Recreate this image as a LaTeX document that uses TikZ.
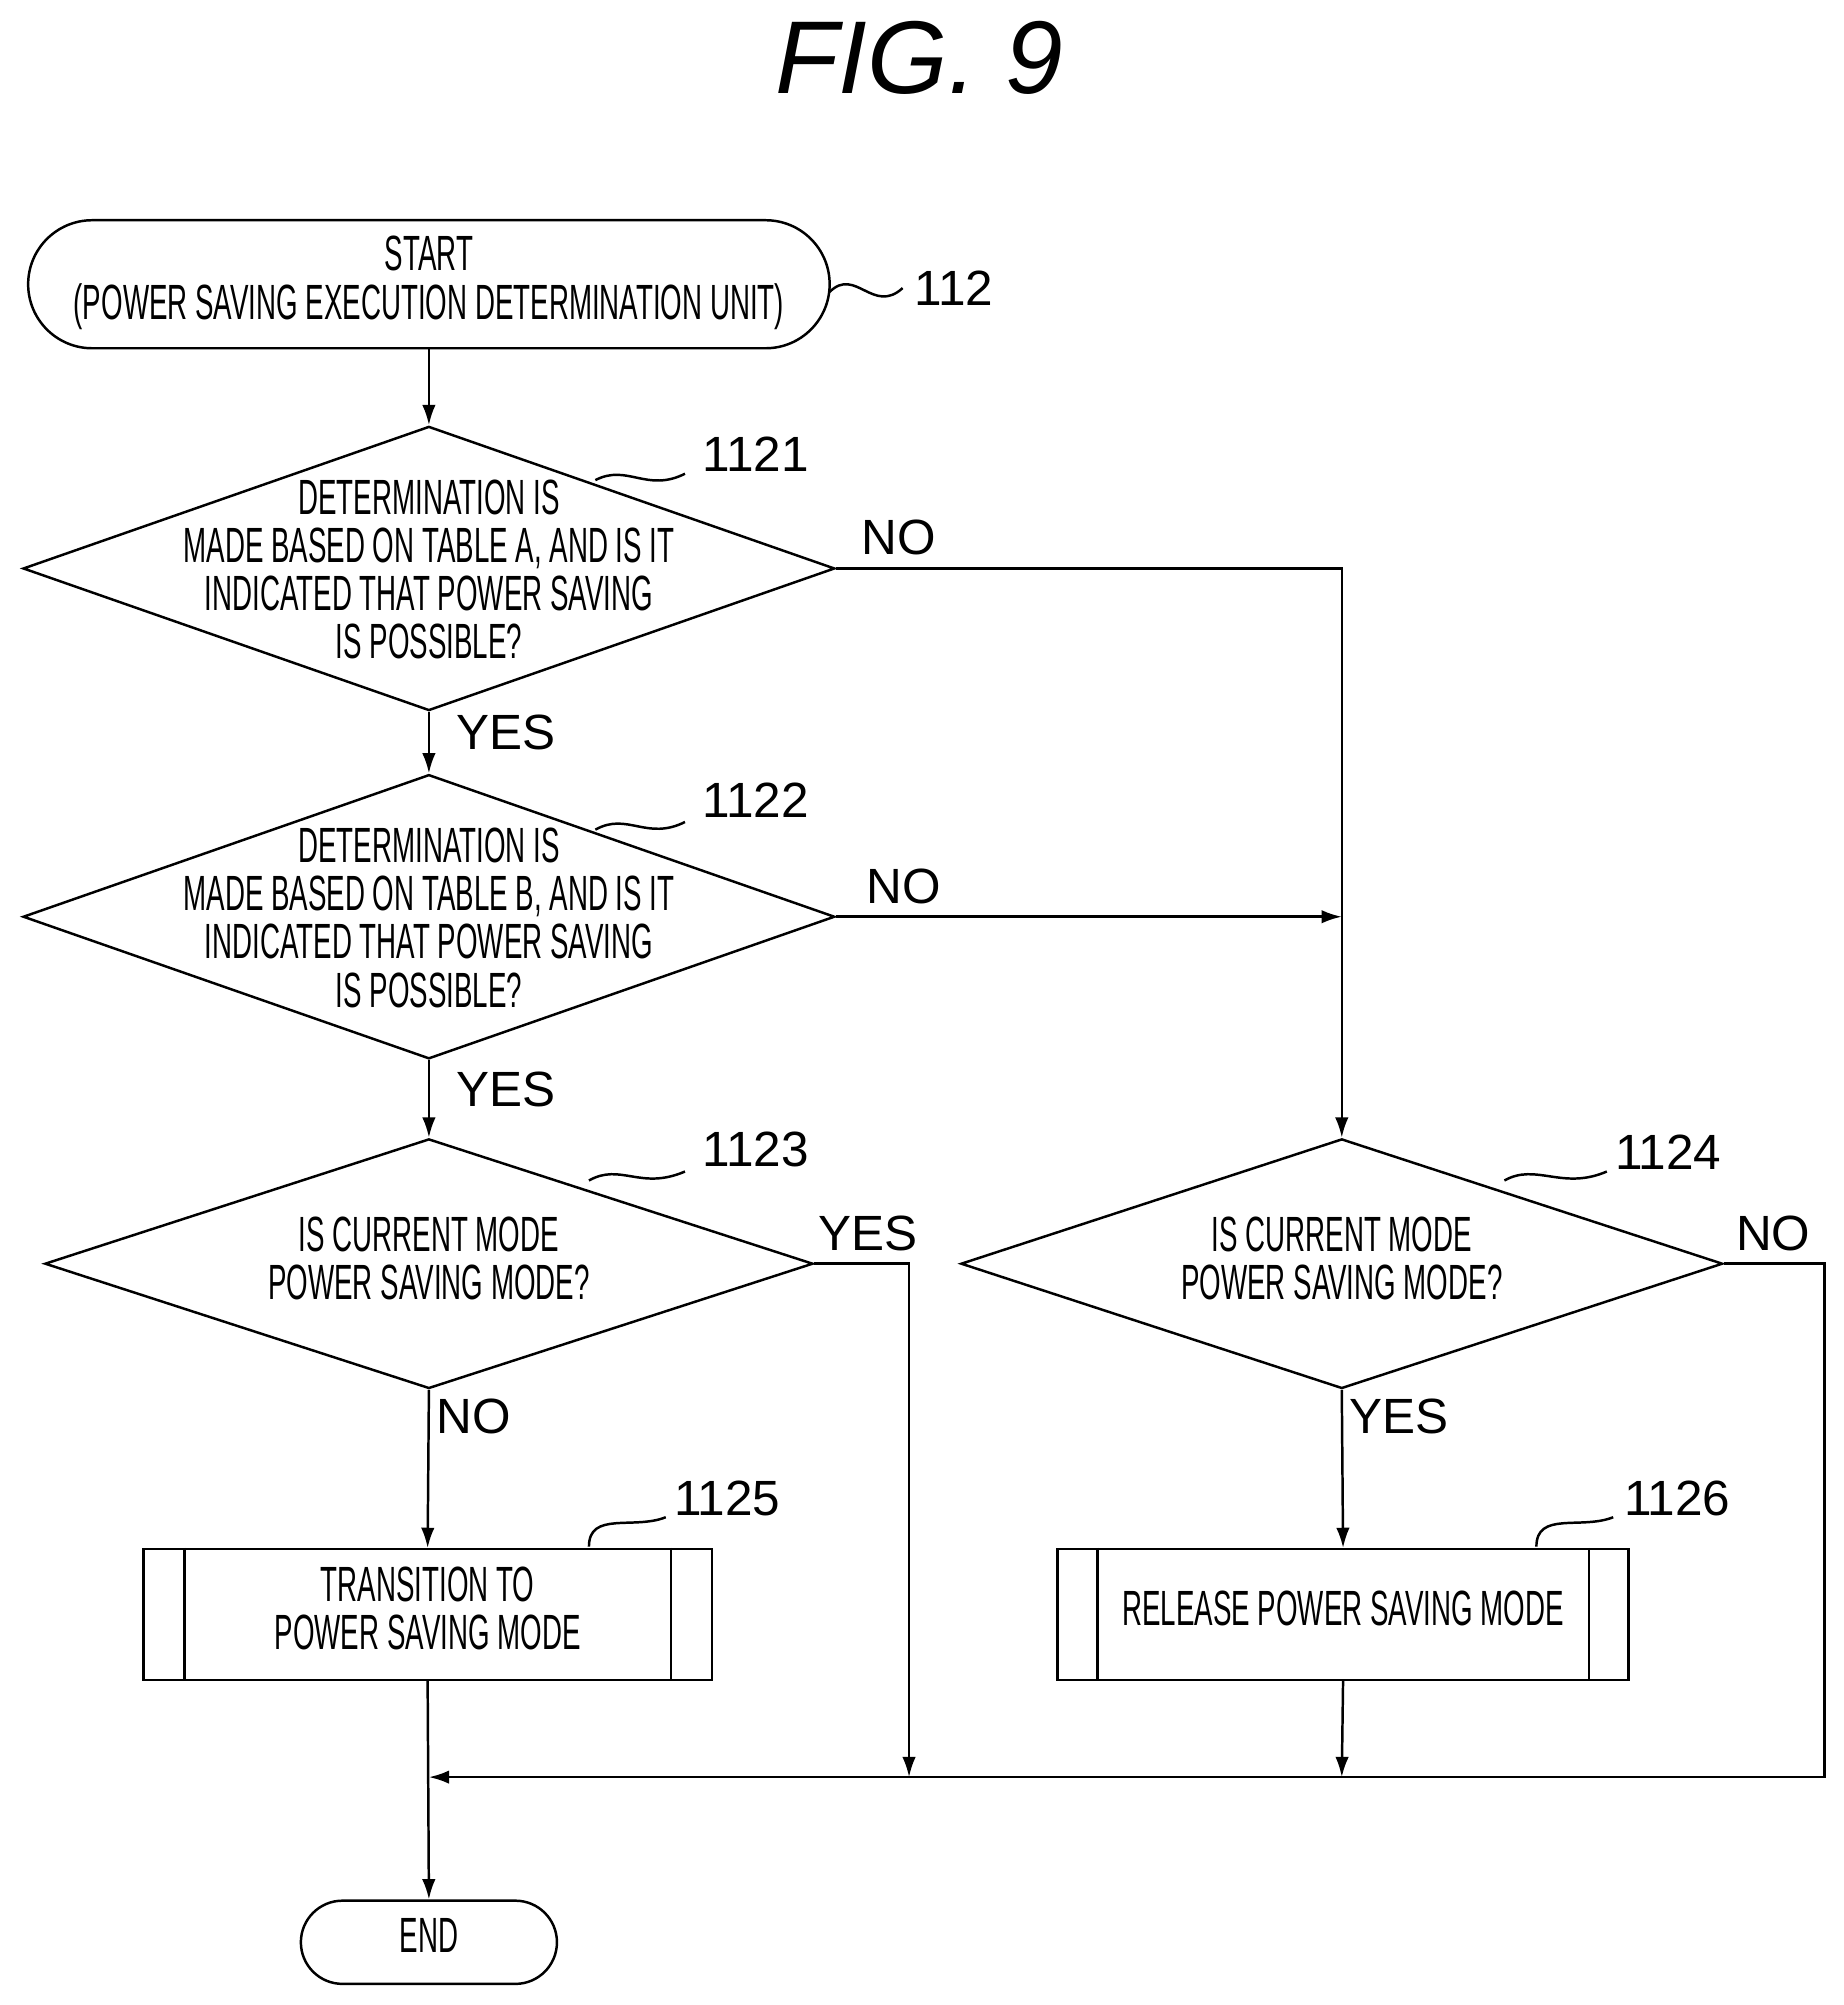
\documentclass[tikz,border=0pt]{standalone}
\usepackage{fontspec}
\usepackage{graphicx}
\setmainfont{Liberation Sans}
\newcommand\cn[1]{\scalebox{0.56}[1]{\begin{tabular}{@{}c@{}}#1\end{tabular}}}
\usetikzlibrary{shapes.geometric,arrows.meta}
\begin{document}
\begin{tikzpicture}[x=0.02cm,y=-0.02cm,line width=1.1pt,
  box/.style={draw,inner sep=0,font=\fontsize{22}{20}\selectfont,align=center},
  dia/.style={draw,diamond,inner sep=0},
  txt/.style={font=\fontsize{22}{20}\selectfont,align=center},
  lab/.style={font=\fontsize{22}{22}\selectfont},
  arr/.style={-{Latex[length=9pt,width=6pt]}}]
\useasboundingbox (0,0) rectangle (1440,1566);
\node[font=\itshape\fontsize{46}{46}\selectfont] (title) at (718,45) {FIG. 9};
% start
\node[box,minimum width=626*0.02cm,minimum height=100*0.02cm,rounded corners=1cm] (start) at (335,222) {\cn{START\\(POWER SAVING EXECUTION DETERMINATION UNIT)}};
\draw (648,228) .. controls (668,208) and (682,246) .. (705,225);
\node[lab] (l112) at (745,225) {112};
% diamond 1121
\node[dia,minimum width=634*0.02cm,minimum height=222*0.02cm,shape aspect=2.86] (d1) at (335,444) {};
\node[txt] (t1) at (335,450) {\cn{DETERMINATION IS\\MADE BASED ON TABLE A, AND IS IT\\INDICATED THAT POWER SAVING\\IS POSSIBLE?}};
\draw (465,375) .. controls (490,362) and (505,385) .. (535,370);
\node[lab] (l1121) at (590,355) {1121};
% diamond 1122
\node[dia,minimum width=634*0.02cm,minimum height=222*0.02cm,shape aspect=2.86] (d2) at (335,716) {};
\node[txt] (t2) at (335,722) {\cn{DETERMINATION IS\\MADE BASED ON TABLE B, AND IS IT\\INDICATED THAT POWER SAVING\\IS POSSIBLE?}};
\draw (465,648) .. controls (490,634) and (505,657) .. (535,642);
\node[lab] (l1122) at (590,625) {1122};
% diamond 1123
\node[dia,minimum width=600*0.02cm,minimum height=195*0.02cm,shape aspect=3.08] (d3) at (335,987) {};
\node[txt] (t3) at (335,988) {\cn{IS CURRENT MODE\\POWER SAVING MODE?}};
\draw (460,922) .. controls (485,908) and (500,930) .. (535,915);
\node[lab] (l1123) at (590,898) {1123};
% diamond 1124
\node[dia,minimum width=595*0.02cm,minimum height=195*0.02cm,shape aspect=3.05] (d4) at (1048,987) {};
\node[txt] (t4) at (1048,988) {\cn{IS CURRENT MODE\\POWER SAVING MODE?}};
\draw (1175,922) .. controls (1200,908) and (1220,930) .. (1255,915);
\node[lab] (l1124) at (1303,900) {1124};
% box 1125
\node[box,minimum width=444*0.02cm,minimum height=102*0.02cm] (b5) at (334,1261) {\cn{TRANSITION TO\\POWER SAVING MODE}};
\draw ([xshift=0.66cm]b5.north west) -- ([xshift=0.66cm]b5.south west);
\draw ([xshift=-0.66cm]b5.north east) -- ([xshift=-0.66cm]b5.south east);
\draw (460,1208) .. controls (460,1180) and (495,1195) .. (520,1185);
\node[lab] (l1125) at (568,1170) {1125};
% box 1126
\node[box,minimum width=446*0.02cm,minimum height=102*0.02cm] (b6) at (1049,1261) {\cn{RELEASE POWER SAVING MODE}};
\draw ([xshift=0.64cm]b6.north west) -- ([xshift=0.64cm]b6.south west);
\draw ([xshift=-0.64cm]b6.north east) -- ([xshift=-0.64cm]b6.south east);
\draw (1200,1208) .. controls (1200,1180) and (1235,1195) .. (1260,1185);
\node[lab] (l1126) at (1310,1170) {1126};
% end
\node[box,minimum width=200*0.02cm,minimum height=65*0.02cm,rounded corners=0.65cm] (end) at (335,1517) {\cn{END}};
% coordinates
\coordinate (c1) at (1048,444);
\coordinate (c2) at (1048,716);
\coordinate (c3a) at (710,987);
\coordinate (c3b) at (710,1388);
\coordinate (c4a) at (1425,987);
\coordinate (c4b) at (1425,1388);
\coordinate (c6) at (1048,1388);
\coordinate (m) at (335,1388);
% connectors
\draw[arr] (start) -- (d1.north);
\draw[arr] (d1.south) -- (d2.north);
\draw[arr] (d2.south) -- (d3.north);
\draw[arr] (d3.south) -- (b5.north);
\draw[arr] (d4.south) -- (b6.north);
\draw[arr] (d1.east) -- (c1) -- (d4.north);
\draw[arr] (d2.east) -- (c2);
\draw[arr] (d3.east) -- (c3a) -- (c3b);
\draw[arr] (b6.south) -- (c6);
\draw[arr] (d4.east) -- (c4a) -- (c4b) -- (m);
\draw[arr] (b5.south) -- (end.north);
% labels
\node[lab] (n1) at (702,420) {NO};
\node[lab] (y1) at (395,572) {YES};
\node[lab] (n2) at (706,692) {NO};
\node[lab] (y2) at (395,851) {YES};
\node[lab] (y3) at (678,963) {YES};
\node[lab] (n3) at (370,1106) {NO};
\node[lab] (n4) at (1385,963) {NO};
\node[lab] (y4) at (1093,1106) {YES};
\end{tikzpicture}
\end{document}
